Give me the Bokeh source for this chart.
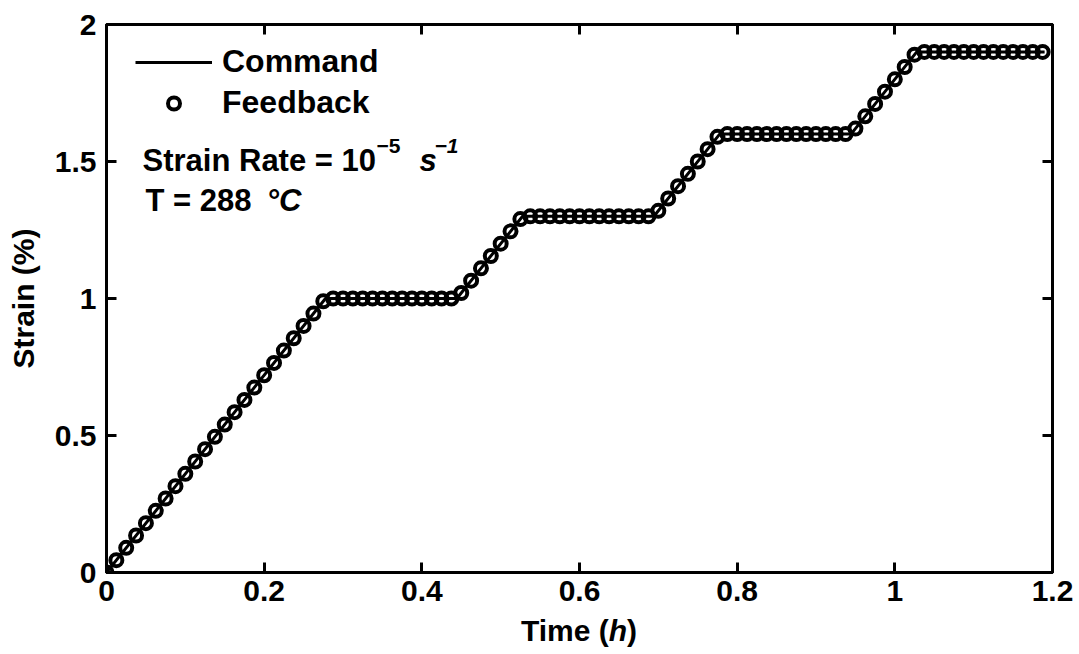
from bokeh.plotting import figure
from bokeh.models import (LinearAxis, FixedTicker, Range1d, Legend, LegendItem, Label, Div)
from bokeh.layouts import column
from bokeh.embed import file_html
from bokeh.resources import INLINE

# ---------------- data ----------------
cmd_time = [0, 0.2778, 0.4444, 0.5278, 0.6944, 0.7778, 0.9444, 1.0278, 1.19]
cmd_strain = [0, 1.0, 1.0, 1.3, 1.3, 1.6, 1.6, 1.9, 1.9]

fb_time = [0, 0.0125, 0.025, 0.0375, 0.05, 0.0625, 0.075, 0.0875, 0.1, 0.1125,
           0.125, 0.1375, 0.15, 0.1625, 0.175, 0.1875, 0.2, 0.2125, 0.225, 0.2375,
           0.25, 0.2625, 0.275, 0.2875, 0.3, 0.3125, 0.325, 0.3375, 0.35, 0.3625,
           0.375, 0.3875, 0.4, 0.4125, 0.425, 0.4375, 0.45, 0.4625, 0.475, 0.4875,
           0.5, 0.5125, 0.525, 0.5375, 0.55, 0.5625, 0.575, 0.5875, 0.6, 0.6125,
           0.625, 0.6375, 0.65, 0.6625, 0.675, 0.6875, 0.7, 0.7125, 0.725, 0.7375,
           0.75, 0.7625, 0.775, 0.7875, 0.8, 0.8125, 0.825, 0.8375, 0.85, 0.8625,
           0.875, 0.8875, 0.9, 0.9125, 0.925, 0.9375, 0.95, 0.9625, 0.975, 0.9875,
           1.0, 1.0125, 1.025, 1.0375, 1.05, 1.0625, 1.075, 1.0875, 1.1, 1.1125,
           1.125, 1.1375, 1.15, 1.1625, 1.175, 1.1875]
fb_strain = [0, 0.045, 0.09, 0.135, 0.18, 0.225, 0.27, 0.315, 0.36, 0.405,
             0.45, 0.495, 0.54, 0.585, 0.63, 0.675, 0.72, 0.765, 0.81, 0.855,
             0.9, 0.945, 0.99, 1.0, 1.0, 1.0, 1.0, 1.0, 1.0, 1.0,
             1.0, 1.0, 1.0, 1.0, 1.0, 1.0, 1.02, 1.065, 1.11, 1.155,
             1.2, 1.245, 1.29, 1.3, 1.3, 1.3, 1.3, 1.3, 1.3, 1.3,
             1.3, 1.3, 1.3, 1.3, 1.3, 1.3, 1.32, 1.365, 1.41, 1.455,
             1.5, 1.545, 1.59, 1.6, 1.6, 1.6, 1.6, 1.6, 1.6, 1.6,
             1.6, 1.6, 1.6, 1.6, 1.6, 1.6, 1.62, 1.665, 1.71, 1.755,
             1.8, 1.845, 1.89, 1.9, 1.9, 1.9, 1.9, 1.9, 1.9, 1.9,
             1.9, 1.9, 1.9, 1.9, 1.9, 1.9]

x_ticks = [0, 0.2, 0.4, 0.6, 0.8, 1.0, 1.2]
x_tick_labels = ["0", "0.2", "0.4", "0.6", "0.8", "1", "1.2"]
y_ticks = [0, 0.5, 1.0, 1.5, 2.0]
y_tick_labels = ["0", "0.5", "1", "1.5", "2"]

FONT = "Liberation Sans"

p = figure(width=1079, height=614, output_backend="svg", toolbar_location=None,
           x_range=Range1d(0, 1.2), y_range=Range1d(0, 2),
           min_border_left=106, min_border_right=27, min_border_top=24, min_border_bottom=42,
           x_axis_location=None, y_axis_location=None)
p.grid.visible = False
p.outline_line_color = "black"
p.outline_line_width = 3
p.background_fill_color = "white"
p.border_fill_color = "white"


def style_axis(ax, ticks, labels, show_labels):
    ax.ticker = FixedTicker(ticks=ticks)
    ax.minor_tick_line_color = None
    ax.major_tick_in = 10
    ax.major_tick_out = 0
    ax.major_tick_line_width = 3
    ax.axis_line_width = 3
    ax.axis_line_color = "black"
    ax.major_tick_line_color = "black"
    ax.major_label_text_font = FONT
    ax.major_label_text_font_style = "bold"
    ax.major_label_text_color = "black"
    ax.major_label_text_font_size = "30px"
    if show_labels:
        ax.major_label_overrides = {t: l for t, l in zip(ticks, labels)}
    else:
        ax.major_label_overrides = {t: "" for t in ticks}
        ax.major_label_standoff = 0


xb = LinearAxis()
style_axis(xb, x_ticks, x_tick_labels, True)
xb.major_label_standoff = 8
p.add_layout(xb, "below")

yl = LinearAxis(axis_label="Strain (%)")
style_axis(yl, y_ticks, y_tick_labels, True)
yl.major_label_standoff = 10
yl.axis_label_text_font = FONT
yl.axis_label_text_font_style = "bold"
yl.axis_label_text_font_size = "30px"
yl.axis_label_text_color = "black"
yl.axis_label_standoff = 12
p.add_layout(yl, "left")

xt = LinearAxis()
style_axis(xt, x_ticks, x_tick_labels, False)
p.add_layout(xt, "above")

yr = LinearAxis()
style_axis(yr, y_ticks, y_tick_labels, False)
p.add_layout(yr, "right")

cmd = p.line(cmd_time, cmd_strain, line_color="black", line_width=3)
fb = p.scatter(fb_time, fb_strain, marker="circle", size=12, fill_color=None,
               line_color="black", line_width=4)

legend = Legend(items=[LegendItem(label="Command", renderers=[cmd]),
                       LegendItem(label="Feedback", renderers=[fb])],
                location=(29, 451), margin=0, padding=0, spacing=4,
                glyph_width=77, glyph_height=30, label_standoff=10,
                label_text_font=FONT, label_text_font_style="bold",
                label_text_font_size="32px", label_text_color="black",
                border_line_color=None, background_fill_alpha=0)
p.add_layout(legend, "center")


def lab(x, y, text, size="31px", style="bold"):
    p.add_layout(Label(x=x, y=y, text=text, text_font=FONT, text_font_size=size,
                       text_font_style=style, text_color="black",
                       text_baseline="alphabetic", text_align="left"))


lab(0.0457, 1.5035, "Strain Rate = 10")
lab(0.3425, 1.5550, "\u22125", size="21px")
lab(0.3970, 1.5035, "s", style="bold italic")
lab(0.4161, 1.5550, "\u22121", size="21px", style="bold italic")
lab(0.0495, 1.3575, "T = 288")
lab(0.2030, 1.3575, "\u00b0C", style="bold italic")

# x-axis title "Time (h)" with italic h, placed under the plot frame
xlabel = Div(
    text='<div style="margin-left:106px;width:946px;padding-top:2px;text-align:center;'
         'font-family:\'Liberation Sans\';font-weight:bold;font-size:30px;'
         'line-height:30px;color:black;">Time (<i>h</i>)</div>',
    width=1079, height=40, styles={"margin": "0", "padding": "0"})

layout = column(p, xlabel, spacing=0)
open("out.html", "w").write(file_html(layout, INLINE))
